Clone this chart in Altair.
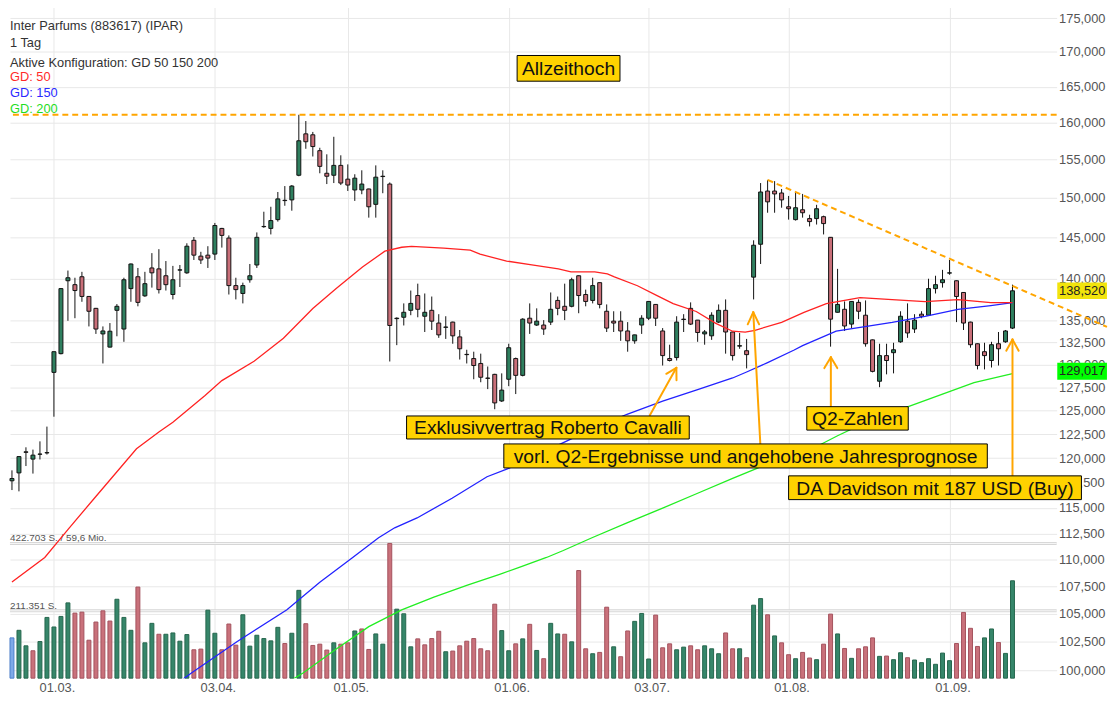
import altair as alt
import pandas as pd

# ---------------- data ----------------
title_lines = ["Inter Parfums (883617) (IPAR)", "1 Tag", "Aktive Konfiguration: GD 50 150 200"]
ma_labels = ["GD: 50", "GD: 150", "GD: 200"]

tick_idx = [6, 29, 48, 71, 91, 111, 134]
tick_lbl = ["01.03.", "03.04.", "01.05.", "01.06.", "03.07.", "01.08.", "01.09."]
price_ticks = [100000, 102500, 105000, 107500, 110000, 112500, 115000, 117500, 120000,
               122500, 125000, 127500, 130000, 132500, 135000, 140000, 145000, 150000,
               155000, 160000, 165000, 170000, 175000]

opens = [117690,118490,120650,119900,120400,120540,129160,131250,139720,139250,
140200,137850,136450,133490,131990,136220,134050,138780,140200,137920,
141260,141150,140320,138080,141000,140670,144650,142700,142820,142950,
146130,144930,139140,138200,139840,141620,146350,146130,147240,149700,
149750,152950,158480,158350,156210,153210,152950,154250,152440,151030,
151030,151160,149180,152780,151800,135250,135410,136220,137960,135530,
136220,134740,134250,134850,133150,131170,130700,130150,128530,128940,
126030,128400,130700,128830,135300,134510,134510,134850,137380,136690,
136690,140320,138080,137380,139490,136110,134960,134960,133830,132700,
134510,135300,136910,133830,130700,130810,135150,136450,135080,133490,
133270,134850,136220,133710,132100,131580,140150,144160,150890,150890,
150640,148870,147240,148490,147370,147370,147610,145020,135990,136340,
134620,137150,135650,132810,128180,131030,131360,132590,134960,134050,
135770,135650,138780,139490,140640,139720,138320,134850,132370,131470,
130480,132370,132590,134160]

highs = [118750,120200,121120,120880,121740,123290,131470,138850,140945,140080,
140790,137900,136500,134350,134740,136950,140080,141800,141260,140790,
143070,143555,142100,141510,141620,144280,145060,143230,143920,146820,
146200,145260,140080,139490,141740,145630,148240,148870,150770,151540,
151670,161090,160230,158740,156600,155720,158080,155590,154380,153080,
153600,151200,154250,153600,152010,135400,137030,138550,139370,138200,
137840,135770,135530,134900,133940,131690,131470,131250,129810,129000,
129050,132370,130810,135300,137030,136450,135080,138320,137840,139370,
140080,140350,138660,140080,139520,136910,136110,136110,134850,133400,
135650,137300,136950,134160,132260,135530,135770,137150,135100,133940,
135990,136910,137500,133750,133600,132920,144650,151930,152340,152180,
151160,150260,150770,150520,147860,149120,147740,145050,141150,137260,
137300,137500,137380,132850,132370,132370,132480,136110,137030,135770,
136110,139960,140320,141030,142230,139750,138350,134900,132400,132480,
132590,133710,133940,139250]

lows = [116760,116630,119190,118420,119860,120370,124340,131170,135000,135300,
137220,134350,133490,130150,131950,133220,132590,137220,136690,137800,
138900,138200,138550,137500,138970,140550,142230,141740,141260,142230,
143750,138080,137500,137030,139490,141260,146210,145380,146990,149000,
148370,152820,156460,155430,153210,151800,151930,151670,150900,149620,
150480,147490,147490,150610,130370,132210,134460,135650,135410,133710,
133940,133040,132920,132370,130590,130150,128400,128070,127320,125140,
125920,127640,126780,128720,133490,134400,133380,134510,135650,135080,
136570,135880,136690,137030,136450,133710,133710,132700,131470,132370,
133490,135080,134400,129920,130370,130480,133710,134510,132590,132260,
132810,134740,131250,130480,131800,129600,137500,141740,148110,148110,
148750,147240,147120,147490,146380,146620,145380,132040,135950,133830,
134160,135190,132040,129160,127530,128940,129050,132480,133040,133600,
135300,135600,138200,138900,140440,134850,133940,131920,129490,129490,
129700,129920,132480,134050]

closes = [117920,120160,120600,120310,120420,120570,131470,138780,140080,138550,
137850,136110,134050,133830,133800,136690,139840,141740,137150,139370,
140670,138660,139250,139840,141030,143920,142820,142230,142460,146500,
145260,139140,138660,139140,140320,145020,146380,147120,149880,149660,
151540,157540,157410,156760,154120,152820,154250,151930,151670,152570,
151800,148870,152700,152820,134460,135300,135990,137030,136340,135990,
134960,133380,134280,133270,131800,131140,129920,128620,128500,125820,
127210,131920,128830,135190,134740,134960,134050,136340,136450,136220,
139840,137960,137260,139140,136910,134160,134740,133830,132700,133380,
135300,137260,135300,131030,130480,134850,135190,134620,133650,133720,
135650,136220,133710,131030,132150,131140,144040,150770,149500,150520,
149750,148620,148750,148110,146990,148620,146740,135190,136910,134400,
137260,136110,132370,129270,131030,130480,131690,135530,133600,135080,
135530,138780,139250,139840,140670,137840,134740,132260,129920,131030,
132260,131800,133830,138520]

volumes = [126400,150200,101500,86000,115000,190600,160600,193700,236200,204100,
207200,119100,176100,211300,179200,247600,190600,150200,285900,110900,
172000,137800,137800,141900,116000,136800,89100,91200,213400,140900,
89100,169900,103600,198900,100500,134700,124300,117100,159500,108800,
140900,275600,170900,102600,106700,88100,110900,106700,110900,148100,
154400,90100,138800,106700,422703,216500,202000,98400,123300,104600,
124300,147100,82900,85000,101500,116000,124300,92200,86000,232100,
149200,86000,107700,123300,168900,87000,61100,172000,138800,137800,
114000,337700,92200,76700,80800,222700,98400,67300,148100,178200,
203100,60100,197900,95300,107700,89100,97400,101500,89100,101500,
92200,76700,141900,92200,92200,64200,229000,249700,198900,132600,
110900,73600,61100,80800,63200,58000,106700,201000,138800,93200,
62200,92200,98400,126400,68400,69400,58000,79800,64200,57000,
48700,61100,43500,78700,54900,108800,206200,156400,99500,126400,
154400,111900,77700,305600]

# moving averages (GD 50 / 150 / 200), read at points along each line
ma50_i = [0, 4.69, 8.2, 11.9, 17.8, 21.0, 23.0, 27.6, 30.0, 34.6, 38.8, 43.0, 46.3, 50.1, 53.3,
          55.7, 57.1, 61.7, 65.5, 66.9, 70.7, 74.3, 78.1, 79.9, 83.3, 85.1, 86.1, 89.4, 92.2,
          94.5, 97.8, 100.6, 103.0, 104.8, 106.2, 110.0, 113.2, 116.4, 121.2, 125.8, 130.5,
          135.2, 139.9, 143.0]
ma50_v = [107900, 110200, 113040, 116040, 120960, 122720, 123760, 126630, 128250, 130400, 133000,
          136430, 138770, 141380, 143310, 143790, 143910, 143670, 143430, 142940, 142100, 141620,
          141140, 140780, 140780, 140540, 140180, 139120, 137940, 137010, 136080, 134710, 133800,
          133690, 133910, 134820, 135970, 137010, 137700, 137470, 137240, 137470, 137130, 137130]
ma150_i = [22.45, 25.7, 32.2, 39.3, 44.0, 48.7, 52.4, 54.7, 57.9, 62.9, 67.9, 70.9, 77.9, 82.9,
           87.9, 93.0, 98.0, 103.0, 105.0, 108.0, 111.8, 113.0, 117.8, 125.8, 130.5, 135.2,
           139.9, 143.0]
ma150_v = [98420, 99820, 102540, 105360, 107890, 110200, 112080, 113040, 114000, 115940, 118100,
           118930, 121300, 123030, 124600, 126020, 127270, 128540, 129200, 130250, 131660, 132150,
           133800, 134820, 135510, 136320, 136780, 137130]
ma200_i = [37.4, 41.6, 46.3, 51.0, 55.7, 60.3, 65.1, 69.7, 72.5, 76.4, 78.8, 82.9, 87.9, 93.0,
           98.0, 103.0, 107.0, 113.0, 118.0, 123.0, 128.2, 132.9, 137.5, 143.0]
ma200_v = [98280, 99800, 101850, 103850, 105360, 106520, 107610, 108620, 109270, 110200, 110860,
           112080, 113520, 114970, 116440, 117930, 119100, 120450, 122330, 124080, 125450, 126740,
           128030, 129017]

ath_price = 161090
trend_i = [108, 156.5]
trend_v = [152340, 134300]

vol_max = 422703
vol_labels = ["422.703 S. / 59,6 Mio.", "211.351 S."]

last_close_lbl = "138,520"
ma200_lbl = "129,017"

# annotation boxes: text, x-from, x-to (candle index), price top, price bottom
notes = [
    ("Allzeithoch", 72.2, 86.9, 169494, 165800),
    ("Exklusivvertrag Roberto Cavalli", 56.4, 96.8, 124420, 121987),
    ("vorl. Q2-Ergebnisse und angehobene Jahresprognose", 70.3, 139.4, 121471, 118993),
    ("Q2-Zahlen", 113.6, 128.1, 125416, 122920),
    ("DA Davidson mit 187 USD (Buy)", 111.0, 152.85, 118189, 115806),
]
# arrow segments: (i, price) -> (i2, price2)
arrows = [
    (91.17, 124500, 94.96, 129667), (94.96, 129667, 93.52, 129000), (94.96, 129667, 94.98, 128300),
    (106.96, 121476, 105.95, 136005), (105.95, 136005, 105.16, 134595), (105.95, 136005, 106.79, 134595),
    (117.04, 125450, 117.04, 130850), (117.04, 130850, 116.11, 129635), (117.04, 130850, 117.96, 129635),
    (143.0, 118225, 143.0, 132860), (143.0, 132860, 142.11, 131580), (143.0, 132860, 143.88, 131580),
]
# value tags on the right edge: text, price top, price bottom, fill
tags = [
    (last_close_lbl, 139508, 137560, "#f2e40c"),
    (ma200_lbl, 130217, 128355, "#00ff00"),
]

# ---------------- layout / style ----------------
FONT = "Liberation Sans"
PLOT_W, PLOT_H = 1059, 682
X_DOM = [-0.2825, 149.31]
Y_DOM = [99363, 177131]
V_DOM = [0, 2115000]
TAG_X = [149.4, 156.5, 149.65]
GREEN, RED = "#2f7f5f", "#c96f79"
ORANGE = "#ffa500"
BOX = "#ffd200"

n = len(closes)
vc = ["b"] + ["g" if closes[k] >= closes[k - 1] else "r" for k in range(1, n)]
df = pd.DataFrame({"i": list(range(n)), "o": opens, "h": highs, "l": lows, "c": closes,
                   "v": volumes, "vc": vc})

xs = alt.Scale(domain=X_DOM, nice=False, zero=False, padding=0)
ys = alt.Scale(type="log", domain=Y_DOM, nice=False, padding=0)
vs = alt.Scale(domain=V_DOM, nice=False, zero=True, padding=0)


def X(f):
    return alt.X(f, type="quantitative", scale=xs, axis=None)


def Y(f):
    return alt.Y(f, type="quantitative", scale=ys, axis=None)


def YV(f):
    return alt.Y(f, type="quantitative", scale=vs, axis=None)


lbl_expr = " : ".join(f"datum.value == {v} ? '{t}'" for v, t in zip(tick_idx, tick_lbl)) + " : ''"
x_axis = alt.Axis(values=tick_idx, labelExpr=lbl_expr, grid=True, gridColor="#e8e8e8",
                  domain=False, ticks=False, labelFontSize=13, labelColor="#555555",
                  labelFont=FONT, labelPadding=3, labelOffset=3, labelFlush=False,
                  labelOverlap=False, title=None)
y_axis = alt.Axis(orient="right", values=price_ticks, format=",d", grid=True,
                  gridColor="#e8e8e8", domain=False, ticks=False, labelAlign="left",
                  labelBaseline="middle", labelPadding=2, labelFontSize=13,
                  labelColor="#555555", labelFont=FONT, labelOverlap=False,
                  labelFlush=False, title=None)

# ---------- price axis carrier (candle wicks) ----------
wicks = alt.Chart(df).mark_rule(color="#111111", strokeWidth=1).encode(
    x=alt.X("i:Q", scale=xs, axis=x_axis),
    y=alt.Y("l:Q", scale=ys, axis=y_axis), y2="h:Q")

# ---------- volume panel ----------
sep_df = pd.DataFrame({"v": [vol_max, vol_max / 2], "t": vol_labels})
sep1 = alt.Chart(sep_df).mark_rule(color="#d6d6d6", strokeWidth=3).encode(y=YV("v"))
sep2 = alt.Chart(sep_df).mark_rule(color="#f8f8f8", strokeWidth=1).encode(y=YV("v"))
vlab = alt.Chart(sep_df).mark_text(align="left", baseline="alphabetic", fontSize=10,
                                   color="#555555", font=FONT, dy=-2).encode(
    x=alt.value(0), y=YV("v"), text="t:N")
vol_bars = alt.Chart(df).mark_bar(size=4, strokeWidth=1, orient="vertical").encode(
    x=X("i"), y=YV("v"),
    fill=alt.Fill("vc:N", scale=alt.Scale(domain=["b", "g", "r"],
                                          range=["#7ea9e8", "#36866a", "#c9717b"]), legend=None),
    stroke=alt.Stroke("vc:N", scale=alt.Scale(domain=["b", "g", "r"],
                                              range=["#4d7fc9", "#25664d", "#a4525d"]), legend=None),
)

# ---------- price panel ----------
ath = alt.Chart(pd.DataFrame({"p": [ath_price]})).mark_rule(
    color=ORANGE, strokeDash=[6, 4], strokeWidth=2).encode(y=Y("p"))

bodies = alt.Chart(df).mark_bar(size=4, stroke="#111111", strokeWidth=1, orient="vertical").encode(
    x=X("i"), y=Y("o"), y2="c:Q",
    fill=alt.condition("datum.c >= datum.o", alt.value(GREEN), alt.value(RED)))


def ma_line(ii, vv, color):
    d = pd.DataFrame({"i": ii, "p": vv})
    return alt.Chart(d).mark_line(color=color, strokeWidth=1.3, clip=True).encode(
        x=X("i"), y=Y("p"))


l50 = ma_line(ma50_i, ma50_v, "#ff2222")
l150 = ma_line(ma150_i, ma150_v, "#2222ff")
l200 = ma_line(ma200_i, ma200_v, "#22ee22")

trend = alt.Chart(pd.DataFrame({"i": trend_i, "p": trend_v})).mark_line(
    color=ORANGE, strokeDash=[6, 4], strokeWidth=2).encode(x=X("i"), y=Y("p"))

arr_df = pd.DataFrame(arrows, columns=["i", "p", "i2", "p2"])
arr = alt.Chart(arr_df).mark_rule(color=ORANGE, strokeWidth=2, strokeCap="round").encode(
    x=X("i"), y=Y("p"), x2="i2:Q", y2="p2:Q")

note_df = pd.DataFrame(notes, columns=["t", "x1", "x2", "p1", "p2"])
note_df["xm"] = (note_df["x1"] + note_df["x2"]) / 2
note_df["pm"] = (note_df["p1"] * note_df["p2"]) ** 0.5
boxes = alt.Chart(note_df).mark_rect(fill=BOX, stroke="#000000", strokeWidth=1).encode(
    x=X("x1"), x2="x2:Q", y=Y("p1"), y2="p2:Q")
box_txt = alt.Chart(note_df).mark_text(fontSize=19.5, font=FONT, color="#111111",
                                       baseline="middle", align="center", dy=1).encode(
    x=X("xm"), y=Y("pm"), text="t:N")

tag_df = pd.DataFrame(tags, columns=["t", "p1", "p2", "f"])
tag_df["pm"] = (tag_df["p1"] * tag_df["p2"]) ** 0.5
tag_df["x1"] = TAG_X[0]
tag_df["x2"] = TAG_X[1]
tag_df["xt"] = TAG_X[2]
tag_box = alt.Chart(tag_df).mark_rect().encode(
    x=X("x1"), x2="x2:Q", y=Y("p1"), y2="p2:Q",
    fill=alt.Fill("f:N", scale=None))
tag_txt = alt.Chart(tag_df).mark_text(fontSize=13, font=FONT, color="#222222",
                                      align="left", baseline="middle").encode(
    x=X("xt"), y=Y("pm"), text="t:N")

one = pd.DataFrame({"a": [0]})
hdr_y = [25.7, 43.3, 63.3, 78.3, 94.3, 110.0]
hdr_c = ["#333333", "#333333", "#333333", "#ff2a2a", "#2a2aff", "#1fdd1f"]
hdr = [alt.Chart(one).mark_text(align="left", baseline="alphabetic", fontSize=13,
                                font=FONT, color=c).encode(
    x=alt.value(0), y=alt.value(yy), text=alt.value(t))
    for t, yy, c in zip(title_lines + ma_labels, hdr_y, hdr_c)]

chart = alt.layer(
    wicks, sep1, sep2, vol_bars, vlab, ath, bodies, l200, l150, l50, trend, arr,
    boxes, box_txt, tag_box, tag_txt, *hdr
).resolve_scale(x="independent", y="independent").properties(
    width=PLOT_W, height=PLOT_H,
    padding={"left": 0, "top": -8, "right": 0, "bottom": 0},
    background="white",
).configure_view(stroke=None)

chart.save("out.html", embed_options={"renderer": "svg", "actions": False})
